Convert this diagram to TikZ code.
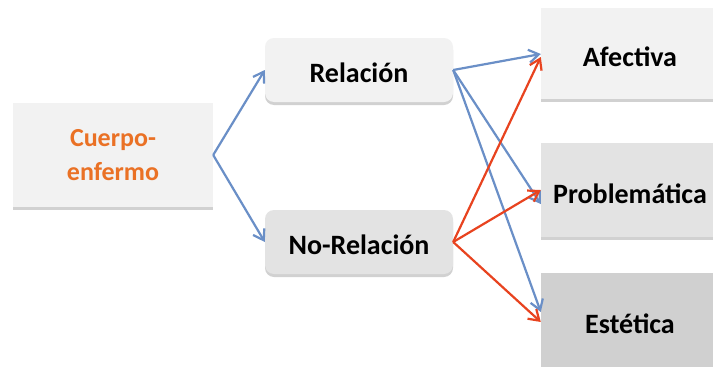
\documentclass[tikz,border=0pt]{standalone}
\usepackage{fontspec}
\setmainfont{Carlito}
\usetikzlibrary{arrows.meta,shadows}
\definecolor{boxA}{HTML}{F2F2F2}
\definecolor{boxB}{HTML}{E3E3E3}
\definecolor{boxC}{HTML}{D0D0D0}
\definecolor{arrBlue}{HTML}{6A8FC7}
\definecolor{arrRed}{HTML}{E8431F}
\definecolor{txtOrange}{HTML}{EA7125}
\tikzset{
  box/.style={draw=none, inner sep=0pt, align=center,
    font=\fontsize{28}{31}\selectfont\bfseries,
    drop shadow={shadow xshift=0pt, shadow yshift=-3pt, fill=black, opacity=0.18}},
  rightbox/.style={box, text height=26pt, text depth=0pt, minimum width=178pt},
  roundbox/.style={box, rounded corners=9pt, text height=24pt, text depth=0pt,
    minimum width=188pt, minimum height=64pt},
  bl/.style={draw=arrBlue, line width=2.2pt, -{Straight Barb[length=10pt,width=13pt,line width=2.2pt]}},
  rd/.style={draw=arrRed, line width=2.2pt, -{Straight Barb[length=10pt,width=13pt,line width=2.2pt]}}
}
\begin{document}
\begin{tikzpicture}[x=1pt,y=-1pt]
\useasboundingbox (0,0) rectangle (713,367);
\fill[white] (0,0) rectangle (713,367);
\node[box, fill=boxA, minimum width=200pt, minimum height=104pt, text=txtOrange, font=\fontsize{26}{34}\selectfont\bfseries] (cuerpo) at (113,155) {Cuerpo-\\enfermo};
\node[roundbox, fill=boxA] (rel) at (359,70) {Relación};
\node[roundbox, fill=boxB] (norel) at (359,242) {No-Relación};
\node[rightbox, fill=boxA, minimum height=91pt] (afe) at (630,53) {Afectiva};
\node[rightbox, fill=boxB, minimum height=94pt] (pro) at (630,190) {Problemática};
\node[rightbox, fill=boxC, minimum height=94pt] (est) at (630,320) {Estética};

\draw[bl] (cuerpo.east) -- (rel.west);
\draw[bl] (cuerpo.east) -- (norel.west);
\draw[bl] (rel.east) -- ([yshift=-1pt]afe.west);
\draw[bl] (rel.east) -- ([yshift=-14pt]pro.west);
\draw[bl] (rel.east) -- ([yshift=8pt]est.west);
\draw[rd] (norel.east) -- ([yshift=-4pt]afe.west);
\draw[rd] (norel.east) -- ([yshift=0pt]pro.west);
\draw[rd] (norel.east) -- ([yshift=-2pt]est.west);
\end{tikzpicture}
\end{document}
